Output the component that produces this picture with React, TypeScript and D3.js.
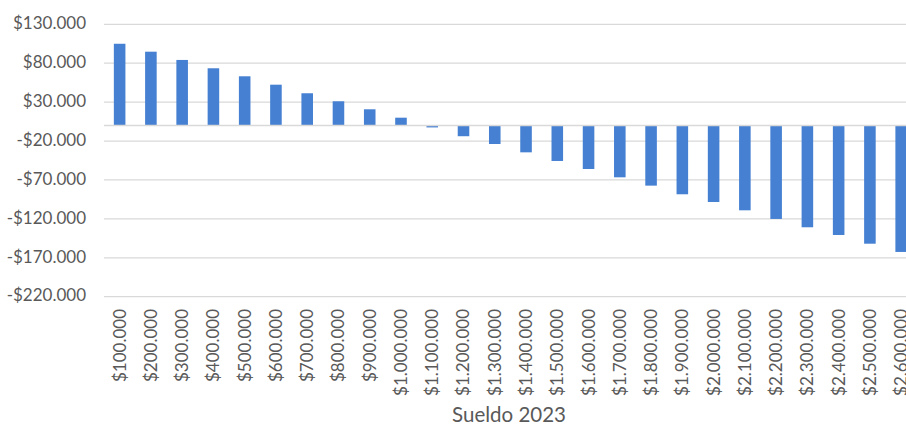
import React from "react";
import * as d3 from "d3";

const categories = [
  "$100.000", "$200.000", "$300.000", "$400.000", "$500.000", "$600.000",
  "$700.000", "$800.000", "$900.000", "$1.000.000", "$1.100.000", "$1.200.000",
  "$1.300.000", "$1.400.000", "$1.500.000", "$1.600.000", "$1.700.000",
  "$1.800.000", "$1.900.000", "$2.000.000", "$2.100.000", "$2.200.000",
  "$2.300.000", "$2.400.000", "$2.500.000", "$2.600.000",
];
const values = [
  105000, 94800, 84200, 73500, 63200, 52400, 41400, 31100, 20800, 10000,
  -2500, -13800, -23800, -34500, -45600, -55900, -66600, -77300, -88400,
  -98300, -109000, -120100, -130800, -140700, -151900, -162500,
];
const yTicks = [130000, 80000, 30000, -20000, -70000, -120000, -170000, -220000];
const xTitle = "Sueldo 2023";

const W = 906;
const H = 425;
const FONT = "Lato, 'Open Sans', sans-serif";
const TEXT = "#595959";
const GRID = "#d9d9d9";
const BAR = "#4580D2";

const fmt = (v: number) => {
  const s = Math.abs(v).toLocaleString("de-DE");
  return (v < 0 ? "-$" : "$") + s;
};

export default function App() {
  const x = d3.scaleBand<string>().domain(categories).range([104, 916.8]).paddingInner(0.63).paddingOuter(0.315);
  const y = d3.scaleLinear().domain([-220000, 130000]).range([296.7, 24.3]);

  return (
    <svg width={W} height={H} style={{ position: "absolute", left: 0, top: 0, background: "#fff" }}>
      <rect x={0} y={0} width={W} height={H} fill="#fff" />
      {yTicks.map((t) => (
        <g key={t}>
          <line x1={104} x2={W} y1={y(t)} y2={y(t)} stroke={GRID} strokeWidth={1.3} />
          <text x={86} y={y(t)} dy="0.28em" textAnchor="end" fontFamily={FONT} fontSize={17} fill={TEXT}>
            {fmt(t)}
          </text>
        </g>
      ))}
      {categories.map((c, i) => {
        const v = values[i];
        const y0 = y(0);
        const yv = y(v);
        return (
          <rect key={c} x={x(c)} width={x.bandwidth()} y={Math.min(y0, yv)} height={Math.abs(yv - y0)} fill={BAR} />
        );
      })}
      <line x1={104} x2={W} y1={y(0)} y2={y(0)} stroke={GRID} strokeWidth={1.5} />
      {categories.map((c) => {
        const cx = (x(c) ?? 0) + x.bandwidth() / 2;
        return (
          <text
            key={c}
            transform={`translate(${cx},${309}) rotate(-90)`}
            textAnchor="end"
            dy="0.35em"
            fontFamily={FONT}
            fontSize={17}
            fill={TEXT}
          >
            {c}
          </text>
        );
      })}
      <text x={509} y={422} textAnchor="middle" fontFamily={FONT} fontSize={20.5} fill={TEXT}>
        {xTitle}
      </text>
    </svg>
  );
}
